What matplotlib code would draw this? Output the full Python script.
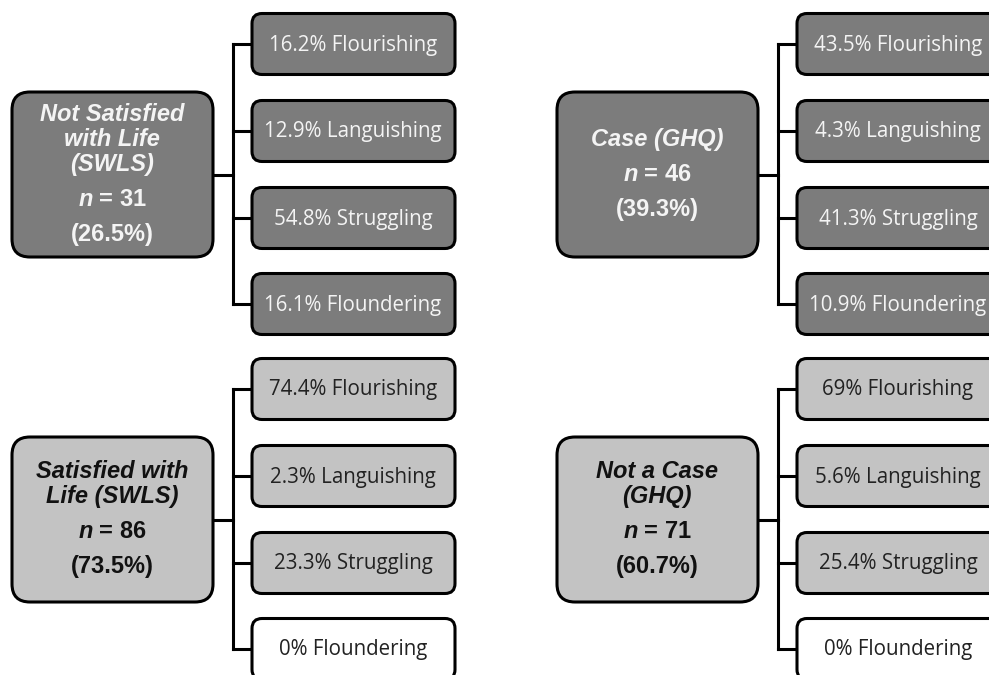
import matplotlib.pyplot as plt
from matplotlib.patches import FancyBboxPatch

plt.rcParams['mathtext.fontset'] = 'custom'
plt.rcParams['mathtext.bfit'] = 'Liberation Sans:bold:italic'

# data
groups = ["Not Satisfied\nwith Life\n(SWLS)", "Case (GHQ)",
          "Satisfied with\nLife (SWLS)", "Not a Case\n(GHQ)"]
group_n = [31, 46, 86, 71]
group_pct = [26.5, 39.3, 73.5, 60.7]
categories = ["Flourishing", "Languishing", "Struggling", "Floundering"]
swls_low = [16.2, 12.9, 54.8, 16.1]
ghq_case = [43.5, 4.3, 41.3, 10.9]
swls_high = [74.4, 2.3, 23.3, 0]
ghq_none = [69, 5.6, 25.4, 0]
values = [swls_low, ghq_case, swls_high, ghq_none]

# panel offsets (px), dark / light fill
offsets = [(0, 0), (545, 0), (0, 345), (545, 345)]
fills = ['#7c7c7c', '#7c7c7c', '#c3c3c3', '#c3c3c3']
txt_cols = ['#f4f4f4', '#f4f4f4', '#111111', '#111111']

fig = plt.figure(figsize=(9.89, 6.75), dpi=100)
ax = fig.add_axes([0, 0, 1, 1])
ax.set_xlim(0, 989)
ax.set_ylim(675, 0)
ax.axis('off')

lw = 2.2
branch_y = [44, 131, 218, 304]

for g in range(4):
    ox, oy = offsets[g]
    # main box
    ax.add_patch(FancyBboxPatch((ox + 12, oy + 92), 201, 165,
                                boxstyle="round,pad=0,rounding_size=18",
                                fc=fills[g], ec='black', lw=lw, zorder=2))
    # text block
    title_lines = groups[g].split('\n')
    nl = len(title_lines)
    total = (nl - 1) * 25 + 70
    cy = oy + 174.5
    y = cy - total / 2
    for line in title_lines:
        ax.text(ox + 112, y, line, ha='center', va='center', color=txt_cols[g],
                fontsize=17, fontweight='bold', fontstyle='italic',
                family='Liberation Sans', zorder=3)
        y += 25
    y += 10
    ax.text(ox + 112, y, r"$\mathbfit{n}$ = %d" % group_n[g], ha='center', va='center',
            color=txt_cols[g], fontsize=17, fontweight='bold',
            family='Liberation Sans', zorder=3)
    y += 35
    ax.text(ox + 112, y, "(%.1f%%)" % group_pct[g], ha='center', va='center',
            color=txt_cols[g], fontsize=17, fontweight='bold',
            family='Liberation Sans', zorder=3)

    # connectors
    ax.plot([ox + 213, ox + 233], [oy + 175, oy + 175], color='black', lw=lw, zorder=1)
    ax.plot([ox + 233, ox + 233], [oy + branch_y[0], oy + branch_y[-1]],
            color='black', lw=lw, zorder=1, solid_capstyle='projecting')
    for i, cat in enumerate(categories):
        by = oy + branch_y[i]
        ax.plot([ox + 233, ox + 253], [by, by], color='black', lw=lw, zorder=1)
        v = values[g][i]
        fc = fills[g] if v > 0 else 'white'
        tc = txt_cols[g] if v > 0 else '#111111'
        if g >= 2:
            tc = '#222222'
        ax.add_patch(FancyBboxPatch((ox + 252, by - 30.5), 203, 61,
                                    boxstyle="round,pad=0,rounding_size=10",
                                    fc=fc, ec='black', lw=lw, zorder=2))
        ax.text(ox + 353, by + 1, "%g%% %s" % (v, cat), ha='center', va='center',
                color=tc, fontsize=14.8, family='Open Sans', zorder=3)

fig.savefig('out.png', dpi=100)
